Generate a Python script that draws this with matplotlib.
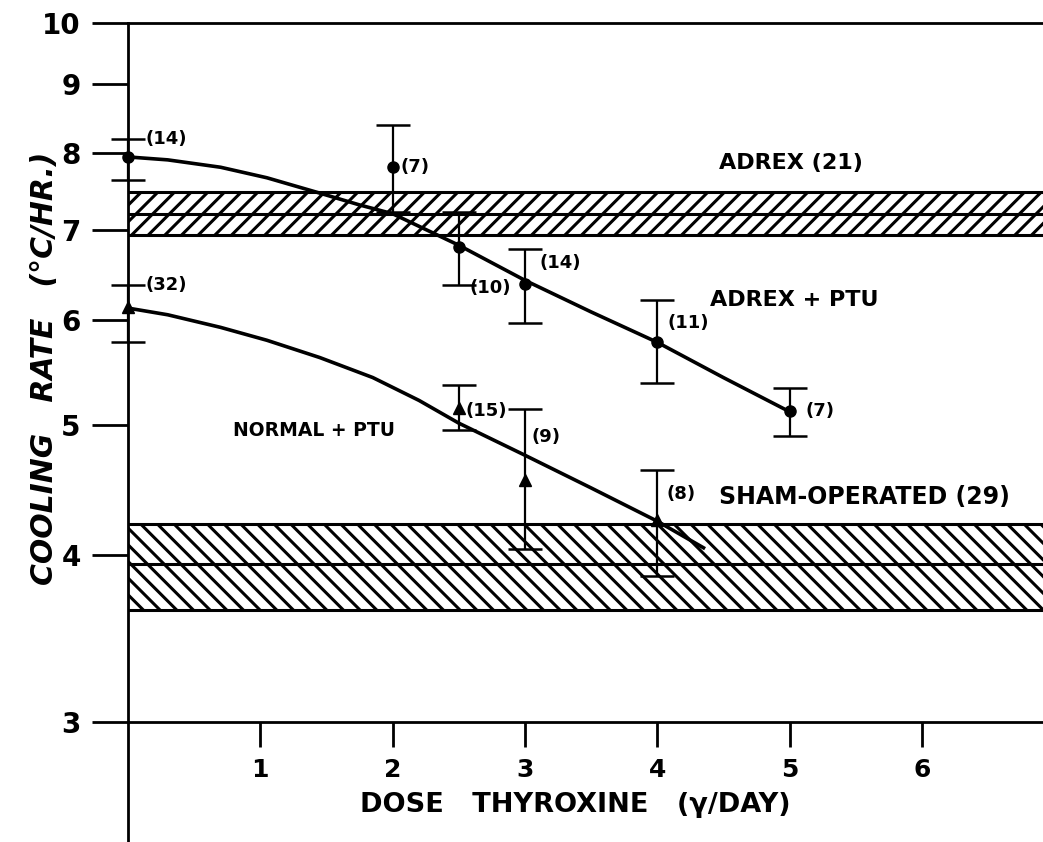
import matplotlib
matplotlib.use("Agg")
import matplotlib.pyplot as plt
from matplotlib.ticker import FixedLocator, FixedFormatter, NullLocator
import numpy as np

plt.rcParams['font.family'] = ['DejaVu Sans']
plt.rcParams['font.weight'] = 'bold'
plt.rcParams['hatch.linewidth'] = 2.2

# ---------------- data ----------------
# ADREX + PTU (circles)
adrex_ptu_dose = [0, 2, 2.5, 3, 4, 5]
adrex_ptu_rate = [7.94, 7.80, 6.80, 6.38, 5.77, 5.13]
adrex_ptu_high = [8.19, 8.39, 7.22, 6.77, 6.21, 5.33]
adrex_ptu_low = [7.63, 7.22, 6.37, 5.97, 5.38, 4.91]
adrex_ptu_n = ["(14)", "(7)", "(10)", "(14)", "(11)", "(7)"]
adrex_ptu_curve_dose = [0, 0.3, 0.7, 1.05, 1.45, 1.75, 2, 2.5, 3, 3.5, 4, 4.5, 5]
adrex_ptu_curve_rate = [7.94, 7.90, 7.80, 7.66, 7.46, 7.31, 7.20, 6.82, 6.42, 6.08, 5.77, 5.43, 5.12]

# NORMAL + PTU (triangles)
normal_ptu_dose = [0, 2.5, 3, 4]
normal_ptu_rate = [6.13, 5.15, 4.55, 4.25]
normal_ptu_high = [6.37, 5.36, 5.14, 4.63]
normal_ptu_low = [5.77, 4.96, 4.04, 3.86]
normal_ptu_n = ["(32)", "(15)", "(9)", "(8)"]
normal_ptu_curve_dose = [0, 0.3, 0.7, 1.05, 1.45, 1.85, 2.2, 2.5, 3, 3.5, 4, 4.35]
normal_ptu_curve_rate = [6.12, 6.05, 5.92, 5.79, 5.62, 5.43, 5.22, 5.02, 4.75, 4.49, 4.24, 4.05]

# reference bands (mean, low, high)
adrex_band = (7.20, 6.94, 7.47)
sham_band = (3.94, 3.64, 4.22)

band_labels = ["ADREX (21)", "ADREX + PTU", "NORMAL + PTU", "SHAM-OPERATED (29)"]

y_ticks = [3, 4, 5, 6, 7, 8, 9, 10]
y_ticklabels = ["3", "4", "5", "6", "7", "8", "9", "10"]
x_ticks = [1, 2, 3, 4, 5, 6]
x_ticklabels = ["1", "2", "3", "4", "5", "6"]

# ---------------- layout ----------------
adrex_ptu_n_pos = [(0.13, 8.19), (2.06, 7.80), (2.58, 6.34), (3.11, 6.61), (4.08, 5.96), (5.12, 5.13)]
normal_ptu_n_pos = [(0.13, 6.37), (2.55, 5.13), (3.05, 4.90), (4.07, 4.44)]
band_label_pos = [(4.47, 7.86), (4.40, 6.21), (0.79, 4.96), (4.47, 4.42)]
band_label_size = [16, 16, 13.5, 17]

fig = plt.figure(figsize=(10.43, 8.42), dpi=100)
ax = fig.add_axes([128 / 1043, 0.0, 1 - 128 / 1043, 1 - 23 / 842])
ax.set_yscale('log')
ax.set_xlim(0, 6.916)
ax.set_ylim(2.44, 10)

# bands
for (mean, lo, hi), hatch in [(adrex_band, '//'), (sham_band, '\\\\')]:
    ax.axhspan(lo, hi, facecolor='white', edgecolor='black', hatch=hatch, linewidth=0, zorder=1)
    for v in (lo, mean, hi):
        ax.axhline(v, color='black', lw=2.2, zorder=2)

# curves
ax.plot(adrex_ptu_curve_dose, adrex_ptu_curve_rate, color='black', lw=2.6, zorder=3,
        solid_joinstyle='round', clip_on=False)
ax.plot(normal_ptu_curve_dose, normal_ptu_curve_rate, color='black', lw=2.6, zorder=3,
        solid_joinstyle='round', clip_on=False)

# error bars
def yerr(rate, low, high):
    r = np.array(rate)
    return [r - np.array(low), np.array(high) - r]

ax.errorbar(adrex_ptu_dose, adrex_ptu_rate, yerr=yerr(adrex_ptu_rate, adrex_ptu_low, adrex_ptu_high),
            fmt='o', color='black', ms=8, capsize=12, elinewidth=1.6, capthick=1.8, zorder=4, clip_on=False)
ax.errorbar(normal_ptu_dose, normal_ptu_rate, yerr=yerr(normal_ptu_rate, normal_ptu_low, normal_ptu_high),
            fmt='^', color='black', ms=9, capsize=12, elinewidth=1.6, capthick=1.8, zorder=4, clip_on=False)

# n labels
for (x, y), t in zip(adrex_ptu_n_pos, adrex_ptu_n):
    ax.text(x, y, t, fontsize=13, fontweight='bold', ha='left', va='center', zorder=5)
for (x, y), t in zip(normal_ptu_n_pos, normal_ptu_n):
    ax.text(x, y, t, fontsize=13, fontweight='bold', ha='left', va='center', zorder=5)

for (x, y), t, fs in zip(band_label_pos, band_labels, band_label_size):
    ax.text(x, y, t, fontsize=fs, fontweight='bold', ha='left', va='center', zorder=5)

# axes styling
ax.spines['right'].set_visible(False)
ax.spines['bottom'].set_position(('data', 3))
for s in ('left', 'bottom', 'top'):
    ax.spines[s].set_linewidth(2.0)

ax.yaxis.set_major_locator(FixedLocator(y_ticks))
ax.yaxis.set_major_formatter(FixedFormatter(y_ticklabels))
ax.yaxis.set_minor_locator(NullLocator())
ax.xaxis.set_major_locator(FixedLocator(x_ticks))
ax.xaxis.set_major_formatter(FixedFormatter(x_ticklabels))
ax.tick_params(axis='y', direction='out', length=26, width=2, pad=8, labelsize=20)
ax.tick_params(axis='x', direction='out', length=18, width=2, pad=8, labelsize=18)
for lab in ax.get_yticklabels() + ax.get_xticklabels():
    lab.set_fontweight('bold')

fig.text(575 / 1043, 1 - 805 / 842, "DOSE   THYROXINE   (\u03b3/DAY)", ha='center', va='center',
         fontsize=19.5, fontweight='bold')
fig.text(45 / 1043, 1 - 368 / 842, "COOLING   RATE   (\u00b0C/HR.)", ha='center', va='center',
         rotation=90, fontsize=21.5, fontweight='bold', fontstyle='italic')

fig.savefig("out.png", dpi=100)
